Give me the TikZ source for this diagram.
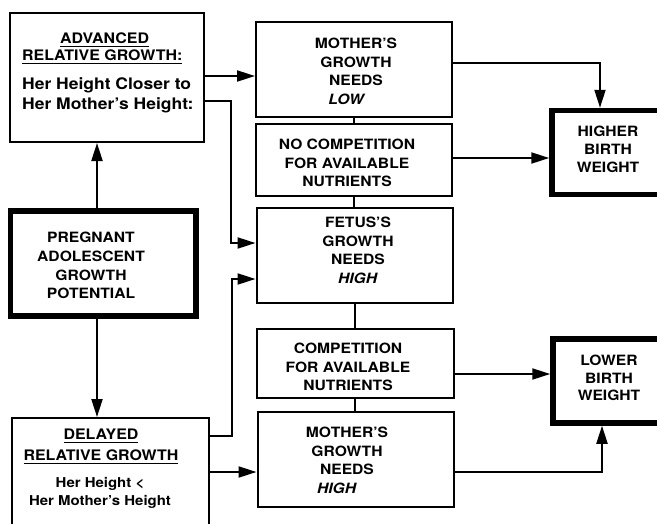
\documentclass[tikz,border=0pt]{standalone}
\usepackage{fontspec}
\setmainfont{TeX Gyre Heros}[FakeStretch=1.1]
\usetikzlibrary{arrows.meta}
\newcommand\myul[1]{\setbox0\hbox{#1}\rlap{\rule[-3.2pt]{\wd0}{1.4pt}}\box0}
\begin{document}
\begin{tikzpicture}[x=1pt,y=-1pt,
  box/.style={draw, line width=2pt, inner sep=0pt, rectangle},
  thickbox/.style={draw, line width=5.5pt, inner sep=0pt, rectangle},
  txt/.style={inner sep=0pt, align=center, anchor=north, font=\fontsize{14.2}{18.5}\selectfont\bfseries},
  conn/.style={line width=2pt},
  arr/.style={line width=2pt, -{Triangle[length=18pt,width=11pt]}}]
\useasboundingbox (0,0) rectangle (657,523);
\clip (0,0) rectangle (657,523);
% boxes
\node[box, minimum width=194pt, minimum height=129.5pt] (adv) at (107,77.25) {};
\node[thickbox, minimum width=185.7pt, minimum height=105pt] (preg) at (103.15,263.5) {};
\node[box, minimum width=197pt, minimum height=122pt] (del) at (110.5,479) {};
\node[box, minimum width=196pt, minimum height=95pt] (motherL) at (354,69.5) {};
\node[box, minimum width=196pt, minimum height=72pt] (nocomp) at (354,159.5) {};
\node[box, minimum width=196.5pt, minimum height=95pt] (fetus) at (354.75,255) {};
\node[box, minimum width=196.5pt, minimum height=69.5pt] (comp) at (355.25,363.25) {};
\node[box, minimum width=196.5pt, minimum height=95.5pt] (motherH) at (355.75,459.25) {};
\node[thickbox, minimum width=118pt, minimum height=84.2pt] (higher) at (611,152.6) {};
\node[thickbox, minimum width=117pt, minimum height=84pt] (lower) at (611.5,381) {};
% texts
\node[inner sep=0pt, anchor=north west, align=left, font=\fontsize{14.5}{17}\selectfont\bfseries] (advT1) at (22,33) {\hspace*{38pt}\myul{ADVANCED}\\\myul{RELATIVE GROWTH:}};
\node[inner sep=0pt, anchor=north west, align=left, font=\fontsize{15.9}{20}\selectfont\bfseries] (advT2) at (22,77) {Her Height Closer to\\Her Mother's Height:};
\node[txt, font=\fontsize{14.2}{18.7}\selectfont\bfseries] (pregT) at (91,232) {PREGNANT\\ADOLESCENT\\GROWTH\\POTENTIAL};
\node[txt, font=\fontsize{14.5}{21}\selectfont\bfseries] (delT1) at (101,429) {\myul{DELAYED}\\\myul{RELATIVE GROWTH}};
\node[txt, font=\fontsize{13.6}{18}\selectfont\bfseries] (delT2) at (100,477) {Her Height <\\Her Mother's Height};
\node[txt] (motherLT) at (356,38) {MOTHER'S\\GROWTH\\NEEDS\\\textit{LOW}\hspace*{18pt}};
\node[txt] (nocompT) at (347,139) {NO COMPETITION\\FOR AVAILABLE\\NUTRIENTS};
\node[txt] (fetusT) at (358,217) {FETUS'S\\GROWTH\\NEEDS\\\textit{HIGH}};
\node[txt] (compT) at (348,343) {COMPETITION\\FOR AVAILABLE\\NUTRIENTS};
\node[txt] (motherHT) at (347,427) {MOTHER'S\\GROWTH\\NEEDS\\\textit{HIGH}\hspace*{20pt}};
\node[txt, font=\fontsize{14.2}{18}\selectfont\bfseries] (higherT) at (608,126) {HIGHER\\BIRTH\\WEIGHT};
\node[txt, font=\fontsize{14.2}{17.5}\selectfont\bfseries] (lowerT) at (609,355) {LOWER\\BIRTH\\WEIGHT};
% connectors
\draw[arr] (preg.north -| 97,0) -- (adv.south -| 97,0);
\draw[arr] (preg.south -| 97,0) -- (del.north -| 97,0);
\draw[arr] (adv.east |- 0,76) -- (motherL.west |- 0,76);
\draw[arr] (adv.east |- 0,101) -| (231,243) -- (fetus.west |- 0,243);
\draw[arr] (del.east |- 0,436) -| (232,279) -- (fetus.west |- 0,279);
\draw[arr] (del.east |- 0,472) -- (motherH.west |- 0,472);
\draw[conn] (motherL.south) -- (motherL.south |- nocomp.north);
\draw[conn] (nocomp.south) -- (nocomp.south |- fetus.north);
\draw[conn] (fetus.south) -- (fetus.south |- comp.north);
\draw[conn] (comp.south) -- (comp.south |- motherH.north);
\draw[arr] (motherL.east |- 0,63) -| (higher.north -| 600,0);
\draw[arr] (nocomp.east |- 0,158) -- (higher.west |- 0,158);
\draw[arr] (comp.east |- 0,374) -- (lower.west |- 0,374);
\draw[arr] (motherH.east |- 0,472) -| (lower.south -| 602,0);
\end{tikzpicture}
\end{document}
